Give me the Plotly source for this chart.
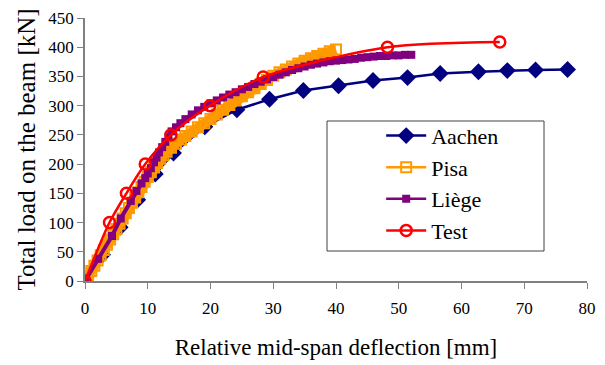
import plotly.graph_objects as go

# Data
aachen_x = [0, 2.8, 5.6, 8.4, 11.2, 14.1, 19.1, 24.2, 29.4, 34.8, 40.4, 45.9, 51.4, 56.6, 62.7, 67.3, 71.8, 76.9]
aachen_y = [0, 45, 92, 139, 183, 219, 264, 293, 311, 326, 334, 343, 348, 355, 358, 360, 361, 362]

pisa_x = [0, 0.5, 1, 1.5, 2, 2.5, 3, 3.5, 4, 4.5, 5, 5.5, 6, 6.5, 7, 7.5, 8, 8.5, 9, 9.5,
          10, 10.5, 11, 11.5, 12, 12.5, 13, 13.7, 14.5, 15.3, 16, 17, 18, 19, 20, 21, 22,
          23, 24, 25, 26, 27, 28, 29, 30, 31, 32, 33, 34, 35, 36, 37, 38, 39, 40]
pisa_y = [0, 8, 17, 26, 35, 44, 53, 62, 71, 80, 89, 98, 107, 116, 125, 134, 143, 152, 161, 170,
          178, 186, 194, 202, 209, 215, 221, 228, 235, 242, 248, 256, 263, 270, 277, 285, 293,
          301, 309, 316, 323, 330, 337, 344, 351, 357, 362, 367, 372, 377, 381, 385, 389, 393, 396]

liege_x = [0, 2.1, 4.3, 5.7, 7.3, 8.2, 9, 9.6, 10, 10.5, 11, 11.4, 11.8, 12.3, 12.8, 13.3, 13.8,
           14.5, 15.2, 16, 17, 18, 19, 20, 21, 22, 23, 24, 25, 26, 27, 28, 29, 30, 31, 32, 33,
           34, 35, 36, 37, 38, 39, 40, 41, 42, 43, 44, 45, 46, 47, 48, 49, 50, 51, 52]
liege_y = [0, 38, 77, 107, 137, 154, 167, 176, 184, 193, 203, 211, 220, 229, 238, 247, 256,
           263, 270, 277, 285, 292, 298, 304, 309, 314, 319, 323, 328, 332, 337, 341, 345, 349,
           353, 357, 361, 364, 367, 370, 372, 374, 376, 377, 378, 379, 380, 382, 383, 384, 385,
           385, 386, 386, 387, 387]

test_x = [0, 3.9, 6.6, 9.6, 13.7, 19.9, 28.4, 48.2, 66.1]
test_y = [0, 100, 150, 200, 250, 300, 349, 400, 409]

x_ticks = [0, 10, 20, 30, 40, 50, 60, 70, 80]
y_ticks = [0, 50, 100, 150, 200, 250, 300, 350, 400, 450]

FONT = "Liberation Serif"
# page body has an 8px margin; plot area targets 85..587 x 18..281 in the window
L, T = 77, 10
W, H = 605, 365

fig = go.Figure()
fig.add_trace(go.Scatter(
    x=aachen_x, y=aachen_y, name="Aachen", mode="lines+markers",
    line=dict(color="#000080", width=2.5),
    marker=dict(symbol="diamond", size=13, color="#000080")))
# dense Pisa series (drawn as a thick band), legend entry added separately
fig.add_trace(go.Scatter(
    x=pisa_x, y=pisa_y, name="Pisa", mode="lines+markers", showlegend=False, legendgroup="pisa",
    line=dict(color="#FF9900", width=10),
    marker=dict(symbol="square-open", size=10, color="#FF9900", line=dict(width=2, color="#FF9900"))))
fig.add_trace(go.Scatter(
    x=[None], y=[None], name="Pisa", mode="lines+markers", legendgroup="pisa",
    line=dict(color="#FF9900", width=2.5),
    marker=dict(symbol="square-open", size=10, color="#FF9900", line=dict(width=2, color="#FF9900"))))
fig.add_trace(go.Scatter(
    x=liege_x, y=liege_y, name="Liège", mode="lines+markers", showlegend=False, legendgroup="liege",
    line=dict(color="#800080", width=4),
    marker=dict(symbol="square", size=8, color="#800080")))
fig.add_trace(go.Scatter(
    x=[None], y=[None], name="Liège", mode="lines+markers", legendgroup="liege",
    line=dict(color="#800080", width=2.5),
    marker=dict(symbol="square", size=8, color="#800080")))
fig.add_trace(go.Scatter(
    x=test_x, y=test_y, name="Test", mode="lines+markers",
    line=dict(color="#FF0000", width=2.5, shape="spline", smoothing=0.8),
    marker=dict(symbol="circle-open", size=11, color="#FF0000", line=dict(width=2.5, color="#FF0000"))))

fig.update_layout(
    width=W, height=H,
    margin=dict(l=L, r=W - L - 502, t=T, b=H - T - 263),
    paper_bgcolor="white", plot_bgcolor="white",
    font=dict(family=FONT, color="black", size=17),
    showlegend=True,
    legend=dict(x=0.59, y=0.632, xanchor="left", yanchor="top",
                bgcolor="rgba(0,0,0,0)", borderwidth=0, tracegroupgap=0,
                font=dict(family=FONT, size=22, color="black"),
                itemwidth=40),
    shapes=[dict(type="rect", xref="paper", yref="paper",
                 x0=(327 - 85) / 502, x1=(544 - 85) / 502,
                 y0=(281 - 251) / 263, y1=(281 - 121) / 263,
                 line=dict(color="#404040", width=1), fillcolor="white", layer="below")],
)
fig.update_xaxes(
    range=[0, 80], tickvals=x_ticks, ticks="outside", ticklen=6, tickcolor="#808080",
    showline=True, linecolor="#808080", linewidth=1.5, showgrid=False, zeroline=False,
    automargin=False, tickfont=dict(family=FONT, size=17), ticklabelstandoff=5,
    title=dict(text="Relative mid-span deflection [mm]", font=dict(family=FONT, size=23), standoff=22))
fig.update_yaxes(
    range=[0, 450], tickvals=y_ticks, ticks="outside", ticklen=6, tickcolor="#808080",
    showline=True, linecolor="#808080", linewidth=1.5, showgrid=False, zeroline=False,
    automargin=False, tickfont=dict(family=FONT, size=17),
    title=dict(text="Total load on the beam [kN]", font=dict(family=FONT, size=25), standoff=6))

fig.write_html("out.html")
